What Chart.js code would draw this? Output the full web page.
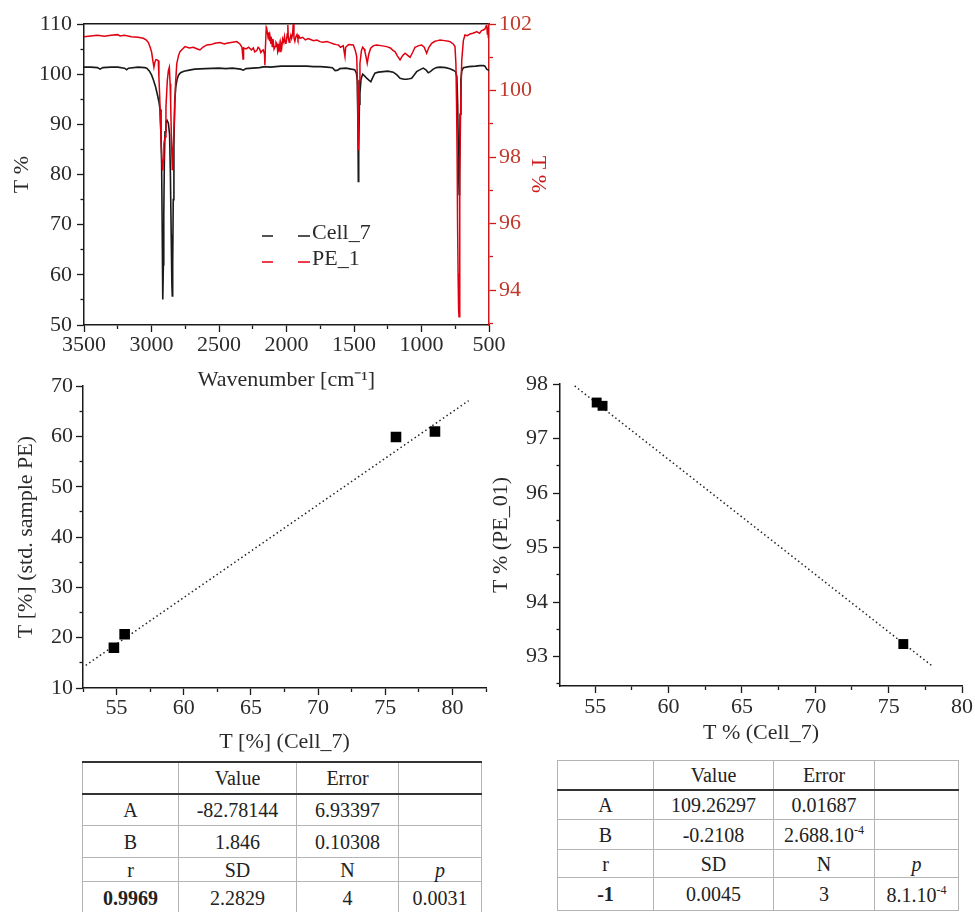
<!DOCTYPE html>
<html>
<head>
<meta charset="utf-8">
<title>FTIR Cell_7 / PE_1</title>
<script src="https://cdn.jsdelivr.net/npm/chart.js@4.4.1/dist/chart.umd.min.js"></script>
<style>
  html, body { margin: 0; padding: 0; background: #fff; }
  body { width: 975px; height: 912px; position: relative; overflow: hidden;
         font-family: 'Liberation Serif', 'Times New Roman', serif; color: #222; }
  .box { position: absolute; }
  #spec { left: 0; top: 0; width: 560px; height: 392px; }
  #corrA { left: 0; top: 370px; width: 495px; height: 385px; }
  #corrB { left: 490px; top: 365px; width: 485px; height: 385px; }

  table.fit { position: absolute; border-collapse: collapse; table-layout: fixed;
              font-size: 20px; color: #222; background: #fff; }
  table.fit td { text-align: center; vertical-align: middle; padding: 0;
                 border: 1px solid #b4b4b4; line-height: 1; white-space: nowrap; }
  table.fit sup { font-size: 12px; vertical-align: 8px; }
  table.fit tr:first-child td { border-bottom: 2px solid #333; }

  #tblA { left: 82px; top: 761px; width: 399px; border-top: 2px solid #333; }
  #tblA tr:nth-child(1) td { height: 30px; }
  #tblA tr:nth-child(2) td { height: 30px; }
  #tblA tr:nth-child(3) td { height: 31px; }
  #tblA tr:nth-child(4) td { height: 23px; }
  #tblA tr:nth-child(5) td { height: 31px; }

  #tblB { left: 557px; top: 760px; width: 401px; }
  #tblB tr:nth-child(1) td { height: 28px; }
  #tblB tr:nth-child(2) td { height: 28px; }
  #tblB tr:nth-child(3) td { height: 29px; }
  #tblB tr:nth-child(4) td { height: 27px; }
  #tblB tr:nth-child(5) td { height: 32px; }
</style>
</head>
<body>
<div class="box" id="spec"><canvas id="specChart"></canvas></div>
<div class="box" id="corrA"><canvas id="corrAChart"></canvas></div>
<div class="box" id="corrB"><canvas id="corrBChart"></canvas></div>
<table class="fit" id="tblA">
  <colgroup><col style="width:96px"><col style="width:118px"><col style="width:102px"><col style="width:83px"></colgroup>
  <tbody></tbody>
</table>
<table class="fit" id="tblB">
  <colgroup><col style="width:96px"><col style="width:120px"><col style="width:101px"><col style="width:84px"></colgroup>
  <tbody></tbody>
</table>

<script>
// ---- Spectra: wavenumber [cm-1] and transmittance [%] ----
const wnCell = [3500, 3450, 3400, 3381, 3360, 3300, 3250, 3200, 3184, 3170, 3100, 3050, 3035, 3015, 2999,
  2985, 2970, 2957, 2945, 2937, 2930, 2925, 2921, 2918, 2915, 2912, 2909, 2905, 2900, 2893, 2885, 2875,
  2866, 2860, 2854, 2849, 2846, 2843, 2839, 2834, 2828, 2820, 2810, 2800, 2785, 2760, 2720, 2680, 2600,
  2500, 2450, 2400, 2340, 2320, 2300, 2250, 2200, 2160, 2120, 2080, 2040, 2000, 1950, 1900, 1850, 1800,
  1750, 1700, 1660, 1640, 1620, 1605, 1560, 1520, 1495, 1482, 1476, 1471, 1468, 1465, 1460, 1456, 1448,
  1436, 1420, 1406, 1390, 1375, 1360, 1345, 1320, 1283, 1250, 1209, 1180, 1159, 1130, 1110, 1090, 1073,
  1050, 1036, 1010, 987, 965, 950, 935, 913, 890, 863, 820, 790, 765, 748, 738, 732, 727, 723, 721, 718,
  714, 708, 702, 690, 650, 600, 567, 540, 530, 517, 505, 500];
const tCell = [101.4, 101.4, 101.3, 101.0, 101.3, 101.4, 101.4, 101.2, 100.9, 101.2, 101.4, 101.3, 101.2, 100.6, 99.8,
  98.8, 97.5, 96.0, 94.5, 93.0, 88.0, 82.0, 70.0, 60.0, 55.1, 62.0, 72.0, 82.0, 88.5, 90.5, 90.8, 90.2,
  88.0, 80.0, 68.0, 58.0, 55.8, 62.0, 75.0, 86.0, 94.5, 97.5, 99.0, 99.8, 100.3, 100.6, 100.8, 101.0, 101.1,
  101.2, 101.1, 101.2, 101.0, 100.8, 101.1, 101.2, 101.3, 101.5, 101.4, 101.5, 101.6, 101.6, 101.6, 101.6, 101.6, 101.5,
  101.5, 101.4, 101.3, 100.7, 100.8, 101.1, 101.2, 101.0, 100.9, 100.2, 98.8, 90.0, 78.6, 85.0, 94.0, 96.2, 99.0,
  100.0, 99.6, 99.2, 98.8, 98.5, 99.4, 100.2, 100.4, 100.5, 100.6, 100.4, 99.8, 99.2, 99.0, 99.0, 99.1, 99.2,
  100.0, 100.5, 100.9, 101.2, 100.8, 100.3, 100.5, 101.0, 101.3, 101.4, 101.3, 101.1, 100.8, 100.5, 99.5, 94.0, 85.0, 78.0, 76.0, 82.0,
  92.0, 99.0, 100.6, 101.3, 101.5, 101.6, 101.7, 101.7, 101.6, 101.0, 100.8, 100.7];

const wnPE = [3500, 3450, 3400, 3350, 3300, 3250, 3233, 3200, 3150, 3100, 3061, 3040, 3024, 3010, 2999,
  2990, 2982, 2975, 2967, 2958, 2950, 2945, 2940, 2933, 2927, 2921, 2917, 2913, 2908, 2900, 2893, 2883,
  2875, 2868, 2862, 2858, 2852, 2846, 2840, 2831, 2822, 2813, 2800, 2789, 2770, 2752, 2720, 2690, 2660,
  2641, 2620, 2591, 2560, 2530, 2493, 2460, 2443, 2400, 2369, 2345, 2330, 2322, 2318, 2300, 2280, 2260,
  2246, 2235, 2220, 2210, 2200, 2190, 2180, 2172, 2163, 2160, 2157, 2150, 2147, 2140, 2135, 2130, 2125, 2122,
  2115, 2110, 2105, 2100, 2092, 2085, 2078, 2070, 2065, 2060, 2054, 2048, 2042, 2035, 2028, 2020, 2015, 2011,
  2005, 2000, 1995, 1990, 1987, 1980, 1975, 1968, 1962, 1955, 1950, 1945, 1938, 1930, 1922, 1915, 1908, 1900,
  1880, 1860, 1840, 1826, 1800, 1775, 1752, 1730, 1700, 1678, 1650, 1630, 1616, 1600, 1580, 1567, 1562,
  1540, 1505, 1490, 1480, 1474, 1470, 1468, 1465, 1460, 1456, 1445, 1436, 1425, 1419, 1410, 1402, 1390,
  1377, 1355, 1332, 1300, 1258, 1230, 1210, 1196, 1180, 1159, 1140, 1122, 1100, 1085, 1065, 1048, 1020,
  999, 980, 962, 945, 925, 900, 880, 863, 830, 800, 789, 765, 752, 745, 740, 736, 733, 729, 725, 722,
  718, 715, 710, 702, 690, 678, 660, 640, 620, 600, 591, 570, 555, 542, 530, 520, 517, 512, 508, 505, 502, 500];
const tPE = [101.62, 101.64, 101.66, 101.63, 101.66, 101.68, 101.64, 101.66, 101.62, 101.60, 101.57, 101.52, 101.45, 101.30, 101.15,
  100.90, 100.70, 100.85, 100.93, 100.92, 100.90, 100.40, 99.90, 99.00, 98.30, 97.80, 97.60, 97.90, 98.40, 98.60, 99.50, 100.30,
  100.60, 100.70, 100.20, 99.60, 98.50, 97.60, 98.20, 99.10, 100.20, 100.80, 101.05, 101.17, 101.25, 101.32, 101.28, 101.30, 101.25,
  101.22, 101.30, 101.37, 101.38, 101.42, 101.44, 101.40, 101.42, 101.45, 101.47, 101.40, 101.30, 100.95, 101.28, 101.25, 101.30, 101.22,
  101.28, 101.16, 101.20, 101.30, 101.26, 101.14, 101.20, 101.22, 101.10, 100.77, 101.20, 101.90, 101.87, 101.70, 101.56, 101.75, 101.48, 101.62,
  101.40, 101.50, 101.30, 101.55, 101.25, 101.32, 101.45, 101.40, 101.15, 101.20, 101.38, 101.17, 101.42, 101.30, 101.55, 101.45, 101.62, 101.52,
  101.40, 101.50, 101.70, 101.97, 101.60, 101.45, 101.55, 101.66, 101.57, 101.70, 102.00, 101.60, 101.48, 101.62, 101.68, 101.55, 101.64, 101.57,
  101.60, 101.52, 101.56, 101.54, 101.50, 101.52, 101.47, 101.45, 101.47, 101.44, 101.40, 101.38, 101.37, 101.30, 101.35, 101.02, 101.30,
  101.38, 101.37, 101.20, 101.02, 100.20, 98.80, 98.20, 99.20, 100.30, 100.82, 101.20, 101.30, 101.25, 101.17, 101.00, 100.82, 101.10,
  101.27, 101.35, 101.37, 101.35, 101.32, 101.28, 101.20, 101.17, 101.05, 100.92, 101.05, 101.12, 101.05, 101.00, 101.15, 101.30, 101.35,
  101.37, 101.30, 101.12, 101.30, 101.42, 101.48, 101.50, 101.52, 101.50, 101.48, 101.47, 101.40, 101.32, 100.80, 99.50, 98.00, 96.10, 94.50, 93.40, 93.20,
  95.00, 97.30, 99.50, 100.90, 101.50, 101.67, 101.65, 101.70, 101.72, 101.75, 101.77, 101.72, 101.80, 101.82, 101.85, 101.95, 101.97, 101.70, 101.90, 101.60, 101.95, 101.80];

// ---- Peak transmittance correlations ----
const cellVsStdX = [54.8, 55.6, 75.8, 78.7];
const cellVsStdY = [18.0, 20.7, 59.9, 61.0];
const cellVsPeX = [55.1, 55.5, 76.0];
const cellVsPeY = [97.66, 97.60, 93.23];

// linear fits y = A + B*x, and the x span drawn for each line
const fitStd = [-82.78144, 1.846];
const fitStdSpan = [52.7, 81.2];
const fitPe = [109.26297, -0.2108];
const fitPeSpan = [53.6, 78.05];

// fit statistics tables
const tblHead = ['', 'Value', 'Error', ''];
const tblStdRows = [
  ['A', '-82.78144', '6.93397', ''],
  ['B', '1.846', '0.10308', ''],
  ['r', 'SD', 'N', '<i>p</i>'],
  ['<b>0.9969</b>', '2.2829', '4', '0.0031']
];
const tblPeRows = [
  ['A', '109.26297', '0.01687', ''],
  ['B', '-0.2108', '2.688.10<sup>-4</sup>', ''],
  ['r', 'SD', 'N', '<i>p</i>'],
  ['<b>-1</b>', '0.0045', '3', '8.1.10<sup>-4</sup>']
];

const SERIF = "'Liberation Serif', 'Times New Roman', serif";
const INK = '#1a1a1a';
const RED = '#e00010';
const RED_AXIS = '#cc1a1a';

Chart.defaults.animation = false;
Chart.defaults.font.family = SERIF;
Chart.defaults.plugins.legend.display = false;
Chart.defaults.plugins.tooltip.enabled = false;

function xy(xs, ys) {
  return xs.map((x, i) => ({ x: x, y: ys[i] }));
}

function fitLine(ab, span) {
  return span.map(x => ({ x: x, y: ab[0] + ab[1] * x }));
}

// linear axis with labelled major ticks and shorter unlabelled minor ticks
function axis(o) {
  const isMajor = v => Math.abs(v / o.major - Math.round(v / o.major)) < 1e-6;
  const horizontal = o.position === 'bottom' || o.position === 'top';
  const color = o.color || INK;
  return {
    type: 'linear',
    position: o.position,
    min: o.min,
    max: o.max,
    reverse: !!o.reverse,
    border: { display: true, color: color, width: 1.5 },
    grid: {
      drawOnChartArea: false,
      tickLength: 7,
      tickColor: color,
      tickWidth: 1.3,
      tickBorderDash: c => isMajor(c.tick.value) ? [] : [3.5, 3.5],
      tickBorderDashOffset: c => (!isMajor(c.tick.value) && o.position === 'left') ? 3.5 : 0
    },
    ticks: {
      stepSize: o.minor,
      includeBounds: false,
      autoSkip: false,
      maxRotation: 0,
      padding: o.tickPad == null ? 3 : o.tickPad,
      color: o.labelColor || '#2b2b2b',
      font: { family: SERIF, size: 22 },
      callback: v => isMajor(v) ? String(v) : ''
    },
    title: {
      display: !!o.title,
      text: o.title,
      color: o.titleColor || '#2b2b2b',
      font: { family: SERIF, size: 22, lineHeight: o.titleLH || 1.1 },
      padding: o.titlePad || { top: 4, bottom: 4 }
    },
    afterFit: s => {
      if (horizontal) s.height = o.size; else s.width = o.size;
    }
  };
}

// legend drawn as "—  —Label" rows inside the plot
const dashLegend = {
  id: 'dashLegend',
  afterDatasetsDraw(chart, args, opts) {
    if (!opts || !opts.show) return;
    const ctx = chart.ctx;
    const a = chart.chartArea;
    ctx.save();
    ctx.font = '22px ' + SERIF;
    ctx.textBaseline = 'middle';
    chart.data.datasets.forEach((ds, i) => {
      const x = a.left + opts.x;
      const y = a.top + opts.y + i * opts.row;
      ctx.strokeStyle = ds.borderColor;
      ctx.lineWidth = 1.5;
      ctx.beginPath();
      ctx.moveTo(x, y); ctx.lineTo(x + 11, y);
      ctx.moveTo(x + 36, y); ctx.lineTo(x + 48, y);
      ctx.stroke();
      ctx.fillStyle = '#2b2b2b';
      ctx.fillText(ds.label, x + 50, y - 3);
    });
    ctx.restore();
  }
};

// IR spectra, Cell_7 on the left axis, PE_1 on the right axis
new Chart(document.getElementById('specChart'), {
  type: 'line',
  data: {
    datasets: [
      { label: 'Cell_7', data: xy(wnCell, tCell), yAxisID: 'y', borderColor: INK,
        borderWidth: 1.6, pointRadius: 0, tension: 0, order: 2 },
      { label: 'PE_1', data: xy(wnPE, tPE), yAxisID: 'y2', borderColor: RED,
        borderWidth: 1.5, pointRadius: 0, tension: 0, order: 1 }
    ]
  },
  options: {
    responsive: true,
    maintainAspectRatio: false,
    layout: { padding: { top: 24, left: 0, right: 0, bottom: 0 } },
    scales: {
      x: axis({ position: 'bottom', min: 500, max: 3500, reverse: true, major: 500, minor: 250,
                size: 67, tickPad: 0, title: 'Wavenumber [cm\u207B\u00B9]', titlePad: { top: 0, bottom: 0 } }),
      xTop: {
        type: 'linear', position: 'top', min: 500, max: 3500, reverse: true,
        border: { display: true, color: INK, width: 1.5 },
        grid: { drawOnChartArea: false, drawTicks: false },
        ticks: { display: false },
        afterFit: s => { s.height = 0; }
      },
      y: axis({ position: 'left', min: 50, max: 110, major: 10, minor: 5, size: 84, tickPad: 5,
                title: 'T %', titlePad: { top: 10, bottom: 0 } }),
      y2: axis({ position: 'right', min: 92.95, max: 102, major: 2, minor: 1, size: 71,
                 color: RED_AXIS, labelColor: '#c0392b', title: 'T %', titleColor: RED_AXIS,
                 titlePad: { top: 10, bottom: 0 } })
    },
    plugins: { dashLegend: { show: true, x: 178, y: 212, row: 26 } }
  },
  plugins: [dashLegend]
});

// Cell_7 vs standard PE sample
new Chart(document.getElementById('corrAChart'), {
  type: 'scatter',
  data: {
    datasets: [
      { label: 'points', data: xy(cellVsStdX, cellVsStdY), pointStyle: 'rect', pointRadius: 7.5,
        backgroundColor: '#000', borderColor: '#000', borderWidth: 0 },
      { label: 'fit', data: fitLine(fitStd, fitStdSpan), showLine: true, pointRadius: 0,
        borderColor: '#222', borderWidth: 1.5, borderDash: [1.5, 2.8] }
    ]
  },
  options: {
    responsive: true,
    maintainAspectRatio: false,
    layout: { padding: { top: 16, left: 0, right: 9, bottom: 0 } },
    scales: {
      x: axis({ position: 'bottom', min: 52.5, max: 82.5, major: 5, minor: 2.5, size: 67, tickPad: 0,
                title: 'T [%] (Cell_7)', titlePad: { top: 0, bottom: 1 } }),
      y: axis({ position: 'left', min: 10, max: 70, major: 10, minor: 5, size: 83,
                title: 'T [%] (std. sample PE)', titlePad: { top: 14, bottom: 0 } })
    }
  }
});

// Cell_7 vs PE_01
new Chart(document.getElementById('corrBChart'), {
  type: 'scatter',
  data: {
    datasets: [
      { label: 'points', data: xy(cellVsPeX, cellVsPeY), pointStyle: 'rect', pointRadius: 7,
        backgroundColor: '#000', borderColor: '#000', borderWidth: 0 },
      { label: 'fit', data: fitLine(fitPe, fitPeSpan), showLine: true, pointRadius: 0,
        borderColor: '#222', borderWidth: 1.5, borderDash: [1.5, 2.8] }
    ]
  },
  options: {
    responsive: true,
    maintainAspectRatio: false,
    layout: { padding: { top: 19, left: 0, right: 13, bottom: 0 } },
    scales: {
      x: axis({ position: 'bottom', min: 52.6, max: 80, major: 5, minor: 2.5, size: 64, tickPad: 1,
                title: 'T % (Cell_7)', titlePad: { top: 0, bottom: 5 } }),
      y: axis({ position: 'left', min: 92.46, max: 98, major: 1, minor: 0.5, size: 70, tickPad: 5,
                title: 'T % (PE_01)', titleLH: 1, titlePad: { top: 0, bottom: 0 } })
    }
  }
});

// fit statistics
function fillTable(id, head, rows) {
  const body = document.querySelector('#' + id + ' tbody');
  [head].concat(rows).forEach(r => {
    const tr = document.createElement('tr');
    r.forEach(cell => {
      const td = document.createElement('td');
      td.innerHTML = cell;
      tr.appendChild(td);
    });
    body.appendChild(tr);
  });
}
fillTable('tblA', tblHead, tblStdRows);
fillTable('tblB', tblHead, tblPeRows);
</script>
</body>
</html>
